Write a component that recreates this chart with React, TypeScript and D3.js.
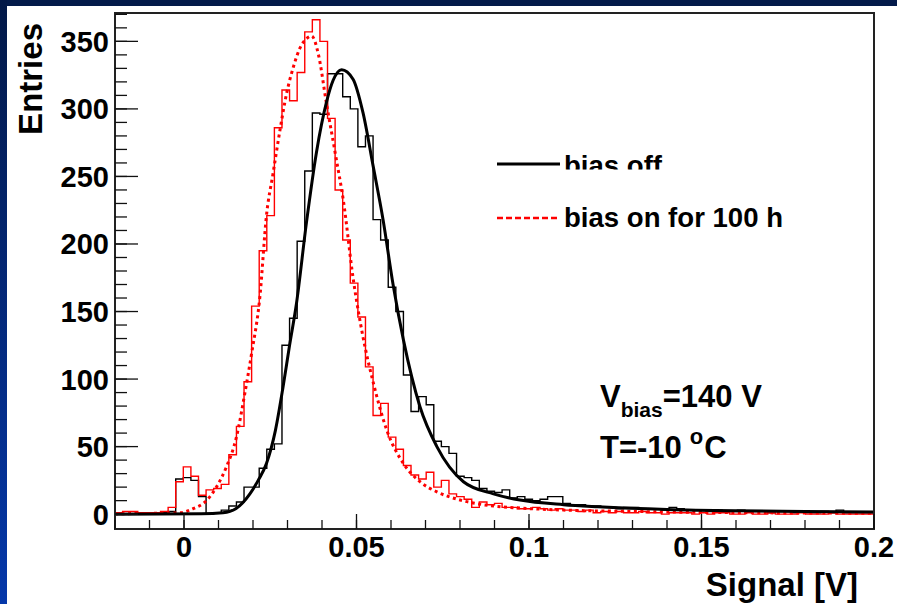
import React from "react";
import * as d3 from "d3";

const W = 897;
const H = 604;

// Histogram: 100 bins from -0.02 to 0.2
const xMin = -0.02;
const xMax = 0.2;
const nBins = 100;

const biasOffCounts = [
  0, 0, 0, 0, 0, 0, 1, 2, 26, 27,
  25, 13, 0, 1, 3, 6, 9, 20, 20, 34,
  48, 52, 125, 145, 202, 254, 297, 296, 326, 326,
  309, 300, 272, 280, 218, 203, 168, 150, 103, 76,
  87, 81, 54, 50, 45, 28, 27, 25, 19, 17,
  16, 18, 12, 13, 11, 10, 11, 13, 13, 8,
  7, 7, 6, 6, 5, 5, 4, 5, 5, 4,
  4, 4, 3, 5, 4, 3, 3, 3, 2, 3,
  2, 2, 3, 2, 2, 2, 1, 2, 2, 1,
  2, 1, 1, 2, 1, 3, 1, 1, 1, 1,
];

const biasOnCounts = [
  1, 2, 2, 1, 1, 1, 2, 5, 24, 35,
  28, 14, 18, 19, 22, 44, 65, 98, 154, 195,
  221, 286, 314, 306, 327, 357, 366, 350, 293, 240,
  203, 171, 146, 109, 73, 82, 57, 48, 36, 29,
  26, 31, 20, 25, 15, 13, 11, 5, 9, 7,
  8, 5, 5, 4, 4, 5, 4, 3, 4, 3,
  3, 2, 3, 1, 2, 1, 2, 1, 1, 2,
  1, 1, 0, 1, 1, 1, 0, 1, 0, 1,
  1, 0, 0, 1, 0, 0, 1, 0, 0, 0,
  1, 0, 0, 0, 1, 0, 0, 0, 0, 0,
];

// Fit curves
const blackFitX = [-0.02, 0.005, 0.0113, 0.015, 0.0191, 0.0215, 0.0239, 0.0265, 0.0287, 0.0306, 0.0326, 0.0355, 0.0384, 0.0413, 0.0432, 0.0457, 0.049, 0.0519, 0.0548, 0.0577, 0.0606, 0.0636, 0.0684, 0.0733, 0.081, 0.0897, 0.0974, 0.11, 0.12, 0.14, 0.16, 0.18, 0.2];
const blackFitY = [0, 0.2, 1, 4, 15, 25, 37.5, 62, 94, 125, 156, 216, 268, 305, 321, 329, 322, 297, 258, 218, 170, 129, 79.5, 50, 24, 15, 10.4, 7, 5.5, 3.5, 2.5, 2, 1.5];

const redFitX = [-0.02, -0.0012, 0.0026, 0.0065, 0.0094, 0.0123, 0.0152, 0.0176, 0.0196, 0.022, 0.0239, 0.0258, 0.0278, 0.0297, 0.0317, 0.0336, 0.0355, 0.037, 0.0389, 0.0413, 0.0442, 0.0462, 0.049, 0.0519, 0.0549, 0.0588, 0.0636, 0.0684, 0.0733, 0.0801, 0.0897, 0.0974, 0.11, 0.13, 0.15, 0.2];
const redFitY = [0.3, 1, 4, 10, 20, 35, 57, 89, 119, 161, 221, 252, 284, 311, 331, 345, 352, 354, 341, 304, 262, 232, 175, 131, 97, 62, 37.5, 24, 16.5, 10.4, 6, 4.5, 3, 2, 1.3, 0.7];

const xMajorTicks = [0, 0.05, 0.1, 0.15, 0.2];
const xTickLabels = ["0", "0.05", "0.1", "0.15", "0.2"];
const yMajorTicks = [0, 50, 100, 150, 200, 250, 300, 350];

const legendLabels = ["bias off", "bias on for 100 h"];

export default function App() {
  const left = 115, right = 874, top = 13, bottom = 529;
  const x = d3.scaleLinear().domain([xMin, xMax]).range([left, right]);
  const y = d3.scaleLinear().domain([-11, 371]).range([bottom, top]);

  const binW = (xMax - xMin) / nBins;
  const stepPath = (counts: number[]) => {
    const pts: [number, number][] = counts.map((c, i) => [xMin + i * binW, c]);
    pts.push([xMax, counts[counts.length - 1]]);
    return d3
      .line<[number, number]>()
      .x((d) => x(d[0]))
      .y((d) => y(d[1]))
      .curve(d3.curveStepAfter)(pts) as string;
  };

  const fitPath = (xs: number[], ys: number[]) =>
    d3
      .line<number>()
      .x((d) => x(d))
      .y((_, i) => y(ys[i]))
      .curve(d3.curveMonotoneX)(xs) as string;

  const xMinor = d3.range(-20, 201, 10).map((v) => v / 1000);
  const yMinor = d3.range(0, 371, 10);

  const font = "'Liberation Sans', Arial, Helvetica, sans-serif";

  return (
    <div style={{ position: "fixed", left: 0, top: 0, width: W, height: H }}>
      <svg width={W} height={H} style={{ display: "block" }} fontFamily={font}>
        <defs>
          <linearGradient id="leftBand" x1="0" y1="0" x2="0" y2="1">
            <stop offset="0" stopColor="#021847" />
            <stop offset="1" stopColor="#0538aa" />
          </linearGradient>
          <clipPath id="plotClip">
            <rect x={left} y={top} width={right - left} height={bottom - top} />
          </clipPath>
          <clipPath id="legClip">
            <rect x={560} y={140} width={200} height={29.5} />
          </clipPath>
        </defs>
        <rect x={0} y={0} width={W} height={H} fill="#ffffff" />
        <rect x={0} y={0} width={W} height={6} fill="#031a4a" />
        <rect x={0} y={0} width={7} height={H} fill="url(#leftBand)" />

        {/* histograms and fits */}
        <g clipPath="url(#plotClip)">
          <path d={stepPath(biasOffCounts)} fill="none" stroke="#000" strokeWidth={1.4} />
          <path d={stepPath(biasOnCounts)} fill="none" stroke="#ff0000" strokeWidth={1.4} />
          <path d={fitPath(redFitX, redFitY)} fill="none" stroke="#ff0000" strokeWidth={3} strokeDasharray="3,3.5" />
          <path d={fitPath(blackFitX, blackFitY)} fill="none" stroke="#000" strokeWidth={3} />
        </g>

        {/* frame */}
        <rect x={left} y={top} width={right - left} height={bottom - top} fill="none" stroke="#222" strokeWidth={2} />

        {/* y ticks */}
        {yMinor.map((v) => (
          <line key={"ym" + v} x1={left} x2={left + 12} y1={y(v)} y2={y(v)} stroke="#111" strokeWidth={1.3} />
        ))}
        {yMajorTicks.map((v) => (
          <g key={"yM" + v}>
            <line x1={left} x2={left + 23} y1={y(v)} y2={y(v)} stroke="#111" strokeWidth={1.3} />
            <text x={109} y={y(v) + 10.5} textAnchor="end" fontSize={29} fontWeight="bold" fill="#000">
              {v}
            </text>
          </g>
        ))}

        {/* x ticks */}
        {xMinor.map((v) => (
          <line key={"xm" + v} x1={x(v)} x2={x(v)} y1={bottom} y2={bottom - 9} stroke="#111" strokeWidth={1.3} />
        ))}
        {xMajorTicks.map((v, i) => (
          <g key={"xM" + v}>
            <line x1={x(v)} x2={x(v)} y1={bottom} y2={bottom - 15} stroke="#111" strokeWidth={1.3} />
            <text x={x(v)} y={557} textAnchor="middle" fontSize={29} fontWeight="bold" fill="#000">
              {xTickLabels[i]}
            </text>
          </g>
        ))}

        {/* axis titles */}
        <text x={858} y={596} textAnchor="end" fontSize={33} fontWeight="bold" fill="#000">
          Signal [V]
        </text>
        <text transform="translate(42,23) rotate(-90)" textAnchor="end" fontSize={33} fontWeight="bold" fill="#000">
          Entries
        </text>

        {/* legend */}
        <line x1={497} x2={560} y1={164} y2={164} stroke="#000" strokeWidth={3} />
        <line x1={497} x2={560} y1={218} y2={218} stroke="#ff0000" strokeWidth={2.5} strokeDasharray="6,3" />
        <text x={564} y={175} fontSize={27} fontWeight="bold" fill="#000" clipPath="url(#legClip)" textLength={98} lengthAdjust="spacingAndGlyphs">
          {legendLabels[0]}
        </text>
        <text x={564} y={227} fontSize={27} fontWeight="bold" fill="#000" textLength={219} lengthAdjust="spacingAndGlyphs">
          {legendLabels[1]}
        </text>

        {/* annotation */}
        <text x={600} y={407} fontSize={31} fontWeight="bold" fill="#000">
          V
          <tspan fontSize={21} dy={10}>bias</tspan>
          <tspan dy={-10}>=140 V</tspan>
        </text>
        <text x={600} y={458} fontSize={31} fontWeight="bold" fill="#000">
          T=-10
          <tspan dx={8} dy={-14} fontSize={22}>o</tspan>
          <tspan dx={1} dy={14}>C</tspan>
        </text>
      </svg>
    </div>
  );
}
